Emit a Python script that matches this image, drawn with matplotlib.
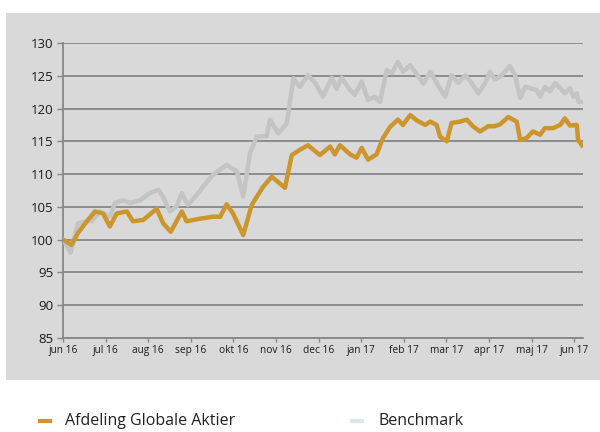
import matplotlib.pyplot as plt
from matplotlib.patches import Rectangle
from matplotlib.lines import Line2D

plt.rcParams['font.family'] = ['Open Sans', 'DejaVu Sans']

# months since jun 16
fund_x = [0.00, 0.20, 0.35, 0.56, 0.75, 0.94, 1.10, 1.26, 1.50, 1.64, 1.88, 2.20, 2.35, 2.53,
          2.79, 2.90, 3.22, 3.52, 3.69, 3.84, 3.99, 4.23, 4.43, 4.69, 4.90, 5.21, 5.37, 5.56,
          5.75, 6.03, 6.27, 6.38, 6.50, 6.74, 6.89, 7.01, 7.16, 7.36, 7.51, 7.68, 7.86, 7.98,
          8.15, 8.30, 8.50, 8.62, 8.77, 8.85, 9.01, 9.12, 9.32, 9.48, 9.62, 9.79, 9.98, 10.14,
          10.26, 10.45, 10.65, 10.73, 10.88, 11.03, 11.20, 11.31, 11.50, 11.67, 11.78, 11.90,
          12.06, 12.09, 12.18]
fund_y = [100, 99.2, 101, 102.8, 104.3, 104, 102, 104, 104.3, 102.8, 103, 104.7, 102.5, 101.2,
          104.3, 102.8, 103.2, 103.5, 103.5, 105.4, 104, 100.7, 105.3, 108, 109.6, 107.9, 112.9, 113.7,
          114.4, 112.9, 114.2, 113, 114.4, 113, 112.5, 114, 112.2, 113, 115.5, 117.2, 118.3, 117.5,
          119, 118.2, 117.5, 118, 117.5, 115.7, 115, 117.8, 118, 118.3, 117.3, 116.5, 117.3, 117.3,
          117.6, 118.7, 118, 115.2, 115.5, 116.5, 116, 117, 117, 117.5, 118.5, 117.4,
          117.5, 115.2, 114.4]

bench_x = [0.00, 0.18, 0.35, 0.56, 0.67, 0.87, 1.10, 1.22, 1.42, 1.57, 1.81, 2.04, 2.24, 2.35,
           2.51, 2.67, 2.79, 2.93, 3.14, 3.29, 3.52, 3.84, 4.08, 4.23, 4.39, 4.55, 4.78, 4.86,
           5.05, 5.25, 5.41, 5.56, 5.75, 5.92, 6.10, 6.31, 6.42, 6.54, 6.74, 6.85, 7.01, 7.16,
           7.32, 7.44, 7.60, 7.72, 7.86, 7.98, 8.15, 8.26, 8.46, 8.62, 8.77, 8.97, 9.12, 9.28,
           9.44, 9.59, 9.75, 9.91, 10.02, 10.14, 10.30, 10.49, 10.61, 10.73, 10.85, 10.96, 11.12,
           11.20, 11.31, 11.43, 11.55, 11.67, 11.78, 11.90, 11.98, 12.06, 12.10, 12.18]
bench_y = [100, 98, 102.5, 102.8, 102.8, 104.3, 103.5, 105.6, 106, 105.6, 106, 107.1, 107.6, 106.5,
           104.3, 105.1, 107.1, 105.3, 106.8, 108.1, 109.9, 111.4, 110.4, 106.6, 113.2, 115.7, 115.8, 118.3,
           116.2, 117.7, 124.6, 123.3, 125.1, 123.9, 121.8, 124.7, 123, 124.7, 122.8, 122.1, 124.1, 121.3,
           121.8, 121, 125.9, 125.4, 127.1, 125.6, 126.6, 125.6, 123.8, 125.6, 123.9, 121.8, 125.1, 123.9,
           125.1, 123.9, 122.3, 123.9, 125.6, 124.4, 125.1, 126.5, 125.1, 121.6, 123.3, 123.1, 122.8,
           121.8, 123.3, 122.6, 123.9, 123.1, 122.3, 123.1, 121.8, 122.3, 121, 121]

month_labels = ['jun 16', 'jul 16', 'aug 16', 'sep 16', 'okt 16', 'nov 16', 'dec 16',
                'jan 17', 'feb 17', 'mar 17', 'apr 17', 'maj 17', 'jun 17']
y_ticks = [85, 90, 95, 100, 105, 110, 115, 120, 125, 130]

fund_color = '#CC962E'
bench_color = '#C4C4C4'
grid_color = '#878787'

fig = plt.figure(figsize=(6, 4.32), dpi=100)
fig.patch.set_facecolor('white')
fig.patches.append(Rectangle((0.01, 0.12), 0.99, 0.85, transform=fig.transFigure,
                             facecolor='#D9D9D9', edgecolor='none', zorder=-5))

ax = fig.add_axes([0.105, 0.2176, 0.867, 0.683])
ax.set_zorder(2)
ax.set_facecolor('none')
ax.plot(bench_x, bench_y, color=bench_color, lw=3.2, solid_joinstyle='round', zorder=3)
ax.plot(fund_x, fund_y, color=fund_color, lw=3.2, solid_joinstyle='round', zorder=4)

ax.set_xlim(0, 12.21)
ax.set_ylim(85, 130)
ax.set_yticks(y_ticks)
ax.set_xticks(range(len(month_labels)))
ax.set_xticklabels(month_labels, fontsize=7.3)
ax.tick_params(axis='y', labelsize=9.5, length=4, color=grid_color, width=1, pad=3,
               labelcolor='#1a1a1a')
ax.tick_params(axis='x', length=3, color=grid_color, width=1, pad=2, labelcolor='#1a1a1a')
ax.grid(axis='y', color=grid_color, lw=1.3, zorder=1)
ax.set_axisbelow(True)
for s in ['top', 'right']:
    ax.spines[s].set_visible(False)
ax.spines['left'].set_color(grid_color)
ax.spines['bottom'].set_color(grid_color)
ax.spines['left'].set_linewidth(1.3)
ax.spines['bottom'].set_linewidth(1.3)

fig.add_artist(Line2D([0.067, 0.083], [0.025, 0.025], color=fund_color, lw=3, transform=fig.transFigure))
fig.text(0.108, 0.025, 'Afdeling Globale Aktier', fontsize=11.5, va='center', ha='left', color='#222222')
fig.add_artist(Line2D([0.587, 0.603], [0.025, 0.025], color='#DDE6EA', lw=3, transform=fig.transFigure))
fig.text(0.63, 0.025, 'Benchmark', fontsize=11.5, va='center', ha='left', color='#222222')

fig.savefig('out.png', dpi=100)
